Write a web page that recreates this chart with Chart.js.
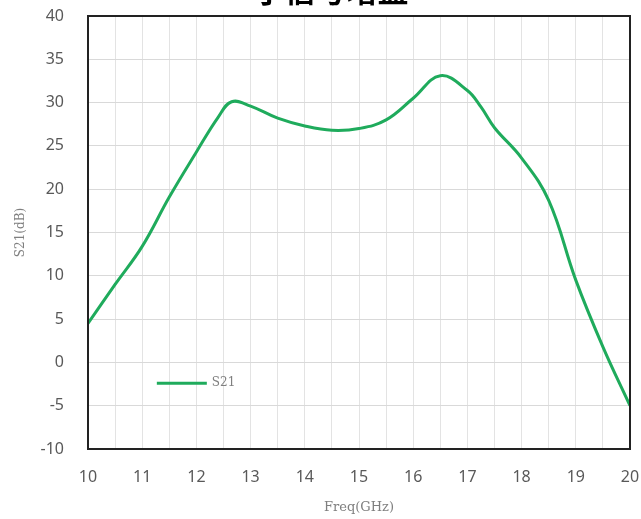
<!DOCTYPE html>
<html>
<head>
<meta charset="utf-8">
<script src="https://cdn.jsdelivr.net/npm/chart.js@4/dist/chart.umd.min.js"></script>
<style>
  html, body { margin: 0; padding: 0; background: #fff; }
  #wrap { width: 641px; height: 519px; position: relative; }
</style>
</head>
<body>
<div id="wrap"><canvas id="c" width="641" height="519"></canvas></div>
<script>
// Small-signal gain S21 versus frequency
const titleText = '小信号增益';
const seriesName = 'S21';
const freqGHz = [10, 10.5, 11, 11.5, 12, 12.4, 12.65, 13, 13.5, 14, 14.5, 15, 15.5, 16, 16.5, 17, 17.25, 17.5, 18, 18.5, 19, 19.5, 20];
const s21dB   = [4.5, 9.0, 13.4, 19.1, 24.3, 28.3, 30.1, 29.6, 28.2, 27.3, 26.8, 27.0, 28.0, 30.5, 33.1, 31.4, 29.5, 27.1, 23.6, 18.7, 9.5, 1.8, -5.0];
const xTicks = [10, 11, 12, 13, 14, 15, 16, 17, 18, 19, 20];
const yTicks = [-10, -5, 0, 5, 10, 15, 20, 25, 30, 35, 40];

const lineColor = '#1fab5c';
const points = freqGHz.map((f, i) => ({ x: f, y: s21dB[i] }));

// Title (clipped at the top edge), plot frame and inline legend
const decorations = {
  id: 'decorations',
  beforeDraw(chart) {
    const ctx = chart.ctx;
    ctx.save();
    ctx.fillStyle = '#000';
    ctx.font = 'bold 31px "Noto Sans CJK SC"';
    ctx.textAlign = 'center';
    ctx.textBaseline = 'alphabetic';
    ctx.fillText(titleText, 331, 2);
    ctx.restore();
  },
  afterDraw(chart) {
    const { ctx, chartArea: a, scales } = chart;
    ctx.save();
    ctx.strokeStyle = '#222';
    ctx.lineWidth = 2;
    ctx.strokeRect(a.left, a.top, a.right - a.left, a.bottom - a.top);
    // legend
    const lx = scales.x.getPixelForValue(11.27);
    const ly = scales.y.getPixelForValue(-2.4);
    ctx.strokeStyle = lineColor;
    ctx.lineWidth = 3;
    ctx.beginPath();
    ctx.moveTo(lx, ly);
    ctx.lineTo(lx + 50, ly);
    ctx.stroke();
    ctx.fillStyle = '#7f7f7f';
    ctx.font = '12px "DejaVu Serif"';
    ctx.textAlign = 'left';
    ctx.textBaseline = 'middle';
    ctx.fillText(seriesName, lx + 55, ly);
    ctx.restore();
  }
};

new Chart(document.getElementById('c'), {
  type: 'line',
  data: {
    datasets: [{
      label: seriesName,
      data: points,
      borderColor: lineColor,
      borderWidth: 3,
      pointRadius: 0,
      tension: 0.4,
      fill: false
    }]
  },
  options: {
    responsive: false,
    animation: false,
    layout: { padding: { top: 16, right: 11, left: 0, bottom: 0 } },
    plugins: { legend: { display: false }, tooltip: { enabled: false } },
    scales: {
      x: {
        type: 'linear',
        min: 10, max: 20,
        afterFit(s) { s.height = 70; },
        afterBuildTicks(s) {
          const t = [];
          for (let v = 10; v <= 20.001; v += 0.5) t.push({ value: v });
          s.ticks = t;
        },
        ticks: {
          autoSkip: false,
          maxRotation: 0,
          padding: 0,
          color: '#595959',
          font: { family: 'Noto Sans', size: 16 },
          callback: v => (xTicks.includes(v) ? String(v) : '')
        },
        grid: { color: '#e3e3e3', lineWidth: 1, drawTicks: true, tickLength: 19, tickColor: 'rgba(0,0,0,0)' },
        border: { display: false },
        title: {
          display: true,
          text: 'Freq(GHz)',
          color: '#7f7f7f',
          font: { family: 'DejaVu Serif', size: 13 },
          padding: { top: 0, bottom: 4 }
        }
      },
      y: {
        min: -10, max: 40,
        afterFit(s) { s.width = 88; },
        afterBuildTicks(s) { s.ticks = yTicks.map(v => ({ value: v })); },
        ticks: {
          padding: 0,
          color: '#595959',
          font: { family: 'Noto Sans', size: 16 }
        },
        grid: { color: '#d9d9d9', lineWidth: 1, drawTicks: true, tickLength: 24, tickColor: 'rgba(0,0,0,0)' },
        border: { display: false },
        title: {
          display: true,
          text: 'S21(dB)',
          color: '#7f7f7f',
          font: { family: 'DejaVu Serif', size: 12 },
          padding: { top: 14, bottom: 0 }
        }
      }
    }
  },
  plugins: [decorations]
});
</script>
</body>
</html>
